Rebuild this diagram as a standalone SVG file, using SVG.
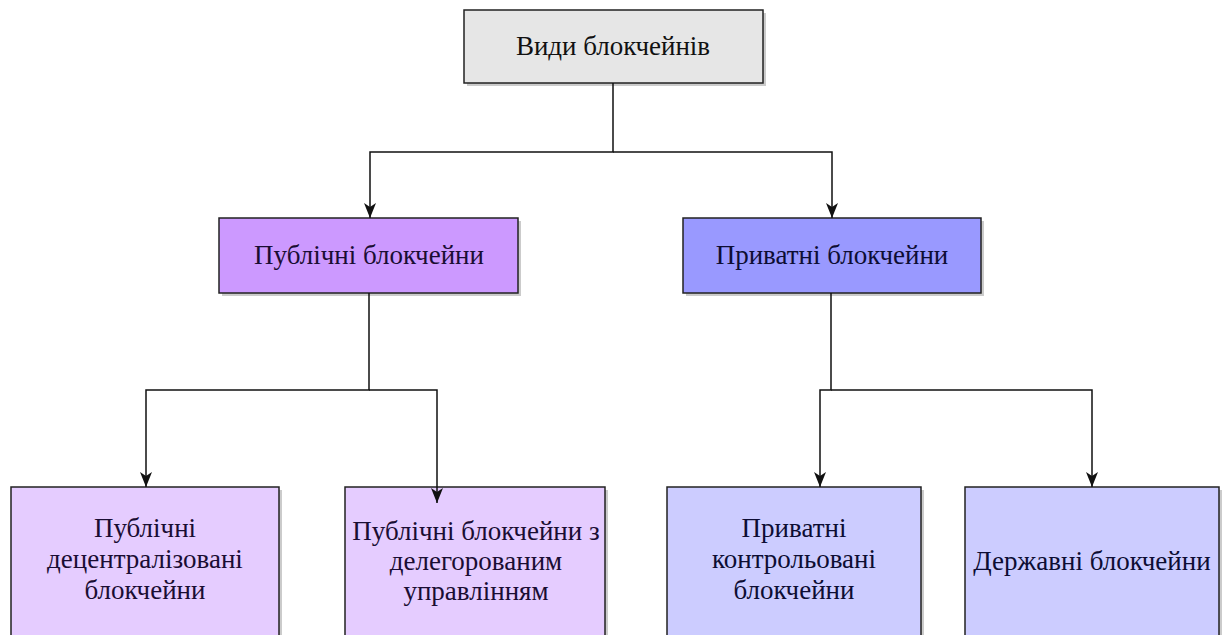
<svg xmlns="http://www.w3.org/2000/svg" width="1222" height="635" viewBox="0 0 1222 635">
  <style>
    .box { stroke: #222; stroke-width: 1.5; }
    .shadow { fill: #8c8c8c; opacity: 0.45; }
    .label { font-family: 'Liberation Serif', 'DejaVu Serif', serif; font-size: 27px; text-anchor: middle; }
    .edge { fill: none; stroke: #111; stroke-width: 1.5; }
    .gray { fill: #e6e6e6; }
    .pub { fill: #cc99ff; }
    .priv { fill: #9999ff; }
    .pub-leaf { fill: #e5ccff; }
    .priv-leaf { fill: #ccccff; }
  </style>
  <defs>
    <marker id="arrow" viewBox="0 0 12 15" refX="6" refY="15" markerWidth="12" markerHeight="15" markerUnits="userSpaceOnUse" orient="0">
      <path d="M0,0 L6,4 L12,0 L6,15 Z" fill="#111"/>
    </marker>
  </defs>
  <rect width="1222" height="635" fill="#ffffff"/>

  <!-- root -->
  <g id="root">
    <rect class="shadow" x="467" y="13" width="299" height="73"/>
    <rect class="box gray" x="464" y="10" width="299" height="73"/>
    <text class="label" x="613" y="55" fill="#111">Види блокчейнів</text>
  </g>

  <!-- second level -->
  <g id="public">
    <rect class="shadow" x="222" y="221" width="299" height="75"/>
    <rect class="box pub" x="219" y="218" width="299" height="75"/>
    <text class="label" x="369" y="264" fill="#1a0d33">Публічні блокчейни</text>
  </g>
  <g id="private">
    <rect class="shadow" x="686" y="221" width="298" height="75"/>
    <rect class="box priv" x="683" y="218" width="298" height="75"/>
    <text class="label" x="832" y="264" fill="#0d0d33">Приватні блокчейни</text>
  </g>

  <!-- leaves -->
  <g id="public-decentralized">
    <rect class="shadow" x="14" y="490" width="268" height="170"/>
    <rect class="box pub-leaf" x="11" y="487" width="268" height="170"/>
    <text class="label" x="145" y="537" fill="#1a0d33">Публічні</text>
    <text class="label" x="145" y="568" fill="#1a0d33">децентралізовані</text>
    <text class="label" x="145" y="599" fill="#1a0d33">блокчейни</text>
  </g>
  <g id="public-delegated">
    <rect class="shadow" x="348" y="490" width="260" height="170"/>
    <rect class="box pub-leaf" x="345" y="487" width="260" height="170"/>
    <text class="label" x="476" y="540" fill="#1a0d33">Публічні блокчейни з</text>
    <text class="label" x="476" y="570" fill="#1a0d33">делегорованим</text>
    <text class="label" x="476" y="600" fill="#1a0d33">управлінням</text>
  </g>
  <g id="private-controlled">
    <rect class="shadow" x="670" y="490" width="254" height="170"/>
    <rect class="box priv-leaf" x="667" y="487" width="254" height="170"/>
    <text class="label" x="794" y="537" fill="#0d0d33">Приватні</text>
    <text class="label" x="794" y="568" fill="#0d0d33">контрольовані</text>
    <text class="label" x="794" y="599" fill="#0d0d33">блокчейни</text>
  </g>
  <g id="state">
    <rect class="shadow" x="968" y="490" width="254" height="170"/>
    <rect class="box priv-leaf" x="965" y="487" width="254" height="170"/>
    <text class="label" x="1092" y="570" fill="#0d0d33">Державні блокчейни</text>
  </g>

  <!-- connectors, drawn over the boxes -->
  <g id="connectors">
    <path class="edge" d="M613,83 V152 H370 V218" marker-end="url(#arrow)"/>
    <path class="edge" d="M613,152 H832 V218" marker-end="url(#arrow)"/>
    <path class="edge" d="M369,293 V390 H146 V487" marker-end="url(#arrow)"/>
    <path class="edge" d="M369,390 H437 V503" marker-end="url(#arrow)"/>
    <path class="edge" d="M831,293 V390 H820 V487" marker-end="url(#arrow)"/>
    <path class="edge" d="M831,390 H1092 V487" marker-end="url(#arrow)"/>
  </g>
</svg>
